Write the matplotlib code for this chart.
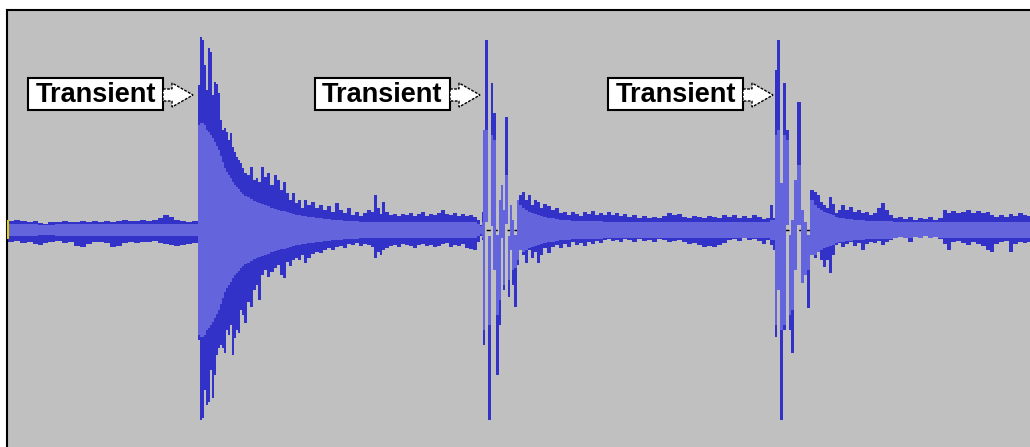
import numpy as np
import matplotlib
matplotlib.use("Agg")
import matplotlib.pyplot as plt
from matplotlib.patches import Rectangle, Polygon

# Waveform.
# Each row: (column start, peak max, peak min, rms), amplitude in screen units.
lead_in = [
    (8, 9, -12, 6), (14, 10, -11, 6), (20, 9, -13, 6), (27, 8, -12, 6),
    (33, 9, -14, 6), (38, 7, -15, 5), (43, 6, -13, 5), (48, 8, -12, 5),
    (55, 8, -11, 6), (62, 9, -13, 6), (68, 8, -12, 6), (74, 8, -16, 6),
    (80, 9, -17, 6), (86, 8, -14, 6), (92, 9, -12, 6), (98, 8, -12, 6),
    (104, 9, -13, 6), (110, 8, -17, 6), (116, 9, -16, 6), (122, 10, -13, 6),
    (128, 9, -12, 6), (134, 9, -13, 6), (140, 10, -12, 6), (146, 9, -12, 6),
    (152, 10, -11, 6), (158, 12, -13, 6), (163, 15, -14, 6), (169, 13, -15, 6),
    (174, 10, -16, 6), (180, 9, -15, 6), (186, 8, -14, 6), (192, 9, -13, 6),
]
hit_1 = [
    (198, 145, -110, 105), (200, 193, -190, 107), (202, 190, -188, 107),
    (204, 165, -160, 105), (206, 140, -175, 100), (208, 182, -172, 98),
    (210, 178, -140, 95), (212, 135, -168, 92), (214, 148, -145, 88),
    (216, 146, -125, 84), (218, 137, -118, 80), (220, 110, -115, 74),
    (222, 100, -118, 68), (224, 102, -123, 62), (226, 98, -100, 58),
    (228, 90, -105, 55), (230, 97, -95, 52), (232, 83, -125, 48),
    (234, 78, -108, 45), (236, 73, -100, 43), (238, 70, -103, 41),
    (240, 67, -80, 38), (242, 62, -85, 36), (244, 57, -93, 34),
    (247, 55, -72, 33), (250, 63, -77, 31), (253, 50, -60, 29),
    (256, 52, -55, 28), (258, 48, -70, 27), (261, 63, -45, 26),
    (264, 53, -40, 25), (267, 57, -47, 24),
]
decay_1 = [
    (270, 45, -42, 22), (274, 55, -38, 21), (277, 50, -35, 20), (280, 40, -45, 19),
    (283, 48, -48, 19), (286, 37, -32, 18), (289, 30, -36, 17), (292, 37, -30, 16),
    (295, 27, -28, 15), (298, 30, -30, 15), (301, 22, -25, 14), (304, 30, -33, 14),
    (307, 25, -28, 13), (311, 28, -24, 13), (315, 22, -22, 12), (319, 25, -23, 12),
    (323, 20, -20, 11), (327, 24, -18, 11), (331, 18, -20, 10), (335, 27, -17, 10),
    (339, 20, -16, 10), (343, 17, -18, 9), (347, 22, -14, 9), (351, 15, -15, 9),
    (355, 18, -13, 9), (359, 14, -16, 8), (363, 17, -14, 8), (367, 20, -15, 8),
    (371, 18, -17, 8), (374, 35, -28, 8), (377, 22, -22, 8), (380, 16, -25, 8),
    (382, 28, -20, 8), (385, 18, -18, 8), (389, 15, -16, 8), (393, 16, -15, 8),
    (397, 14, -17, 8), (401, 16, -14, 8), (405, 15, -15, 8), (409, 17, -16, 8),
    (413, 14, -18, 8), (417, 16, -15, 8), (421, 18, -14, 8), (425, 14, -16, 8),
    (429, 16, -15, 8), (433, 15, -17, 8), (437, 17, -16, 8), (441, 20, -14, 8),
    (445, 16, -13, 8), (449, 15, -17, 8), (453, 17, -15, 8), (457, 14, -16, 8),
    (461, 16, -14, 8), (465, 14, -18, 8), (469, 15, -19, 8), (473, 13, -20, 8),
    (477, 10, -12, 6), (480, 5, -6, 4),
]
hit_2 = [
    (482, 18, -10, 8), (483, 100, -115, 100), (485, 190, 8, 100),
    (488, -6, -190, 95), (491, 147, 4, 95), (493, 117, -40, 90),
    (496, -5, -145, 85), (499, 30, -95, 70), (501, 45, -8, 60),
    (503, 20, -60, 55), (505, 113, 6, 55), (508, -6, -67, 50),
    (510, 25, -20, 45), (512, 10, -55, 40), (514, -5, -77, 38),
    (517, 30, -35, 30), (519, 35, -20, 25),
]
decay_2 = [
    (522, 38, -25, 22), (525, 30, -33, 20), (528, 35, -20, 18), (531, 25, -28, 17),
    (534, 30, -22, 16), (537, 28, -33, 15), (540, 22, -25, 14), (543, 26, -18, 13),
    (547, 24, -23, 12), (551, 20, -17, 12), (555, 22, -15, 11), (559, 17, -18, 10),
    (563, 18, -14, 10), (567, 15, -17, 10), (571, 18, -12, 9), (575, 16, -15, 9),
    (579, 14, -13, 9), (583, 18, -16, 9), (587, 16, -12, 9), (591, 19, -14, 9),
    (595, 15, -11, 9), (599, 17, -13, 9), (603, 15, -10, 8), (607, 18, -9, 8),
    (611, 15, -11, 8), (615, 17, -10, 8), (619, 14, -12, 8), (623, 16, -9, 8),
    (627, 13, -10, 8), (632, 15, -12, 8), (637, 12, -9, 8), (642, 14, -11, 8),
    (647, 12, -10, 8), (652, 13, -12, 8), (657, 12, -9, 8), (662, 14, -10, 8),
    (667, 17, -12, 8), (672, 15, -11, 8), (677, 16, -10, 8), (682, 13, -12, 8),
    (687, 12, -14, 8), (692, 14, -13, 8), (697, 13, -15, 8), (702, 12, -17, 8),
    (707, 14, -16, 8), (712, 13, -17, 8), (717, 12, -15, 8), (722, 15, -13, 8),
    (727, 13, -10, 8), (732, 15, -9, 8), (737, 12, -11, 8), (742, 14, -8, 8),
    (747, 12, -10, 8), (752, 15, -9, 8), (757, 13, -11, 8), (762, 11, -14, 8),
    (766, 12, -10, 8),
]
hit_3 = [
    (770, 25, -15, 10), (773, 12, -20, 10), (775, 160, -107, 95),
    (777, 190, -60, 100), (780, 47, -190, 100), (783, 147, -100, 95),
    (786, 100, 5, 90), (789, -5, -100, 85), (791, 10, -123, 80),
    (794, 50, -40, 70), (797, 128, 5, 65), (801, 20, -53, 55),
    (804, 8, -45, 45), (807, -5, -78, 40), (810, 40, -25, 30),
]
decay_3 = [
    (814, 38, -28, 25), (817, 35, -22, 22), (820, 28, -30, 20), (823, 25, -37, 18),
    (826, 22, -30, 17), (829, 33, -43, 16), (832, 26, -25, 15), (835, 17, -15, 13),
    (838, 20, -13, 12), (841, 25, -17, 12), (845, 20, -14, 11), (849, 23, -12, 11),
    (853, 18, -16, 10), (857, 20, -13, 10), (861, 17, -20, 10), (865, 18, -14, 9),
    (869, 15, -12, 9), (873, 17, -13, 9), (877, 22, -11, 9), (881, 27, -15, 9),
    (885, 20, -12, 9), (889, 15, -10, 9), (893, 12, -8, 8), (898, 13, -7, 8),
    (903, 11, -8, 8), (908, 13, -12, 8), (913, 10, -7, 8), (918, 12, -8, 8),
    (923, 11, -6, 8), (928, 13, -8, 8), (933, 10, -7, 8), (938, 12, -9, 8),
    (943, 20, -14, 8), (947, 17, -20, 8), (951, 19, -12, 8), (956, 17, -11, 8),
    (961, 18, -13, 8), (966, 20, -15, 8), (971, 17, -12, 8), (976, 19, -14, 8),
    (981, 17, -16, 8), (986, 18, -20, 8), (990, 15, -22, 8), (994, 13, -14, 8),
    (999, 15, -12, 8), (1004, 13, -11, 8), (1009, 16, -22, 8), (1013, 14, -14, 8),
    (1018, 17, -12, 8), (1023, 15, -13, 8), (1027, 14, -12, 8),
]
END_X = 1030

# arrow tips of the three "Transient" labels
label_tips = [193, 480, 773]
label_text = "Transient"

PEAK = "#3232c8"
RMS = "#6464dc"
BG = "#c0c0c0"


def main():
    rows = lead_in + hit_1 + decay_1 + hit_2 + decay_2 + hit_3 + decay_3
    starts = np.array([r[0] for r in rows], dtype=float)
    peak_max = np.array([r[1] for r in rows], dtype=float)
    peak_min = np.array([r[2] for r in rows], dtype=float)
    rms = np.array([r[3] for r in rows], dtype=float)
    widths = np.diff(np.append(starts, END_X))

    fig = plt.figure(figsize=(10.30, 4.47), dpi=100)
    ax = fig.add_axes([7 / 1030, 0, 1023 / 1030, 437 / 447])
    ax.set_facecolor(BG)
    ax.set_xlim(7, END_X)
    ax.set_ylim(-217, 220)

    # zero line, only seen where columns don't cross zero
    ax.axhline(0, color="black", lw=1, linestyle=(0, (3, 2)), zorder=1)

    # peak (min/max) columns
    ax.bar(starts, peak_max - peak_min, bottom=peak_min, width=widths,
           align="edge", color=PEAK, linewidth=0, antialiased=False, zorder=2)

    # rms band clipped to the column range
    r_top = np.minimum(rms, peak_max)
    r_bot = np.maximum(-rms, peak_min)
    ok = r_top > r_bot
    ax.bar(starts[ok], (r_top - r_bot)[ok], bottom=r_bot[ok], width=widths[ok],
           align="edge", color=RMS, linewidth=0, antialiased=False, zorder=3)

    # small yellow cursor mark at the left edge
    ax.plot([7.5, 7.5], [-8, 9], color="#e0d000", lw=1.5, zorder=6, clip_on=False)

    # "Transient" callouts
    for tip in label_tips:
        box_l, box_r = tip - 165, tip - 30
        ax.add_patch(Rectangle((box_l, 120), box_r - box_l, 32, facecolor="white",
                               edgecolor="black", lw=1.5, zorder=5))
        ax.text((box_l + box_r) / 2, 135.5, label_text, ha="center", va="center",
                fontsize=19.5, fontweight="bold",
                family=["Liberation Sans", "DejaVu Sans"], zorder=6)
        head = tip - 21
        arrow = [(box_r, 141), (head, 141), (head, 147), (tip, 135),
                 (head, 123), (head, 129), (box_r, 129)]
        ax.add_patch(Polygon(arrow, closed=True, facecolor="white", edgecolor="black",
                             lw=1, linestyle=(0, (2, 1)), zorder=5))

    ax.set_xticks([])
    ax.set_yticks([])
    for side in ("right", "bottom"):
        ax.spines[side].set_visible(False)
    for side in ("top", "left"):
        ax.spines[side].set_linewidth(1.5)
        ax.spines[side].set_color("black")

    fig.savefig("out.png", dpi=100, facecolor="white")


if __name__ == "__main__":
    main()
